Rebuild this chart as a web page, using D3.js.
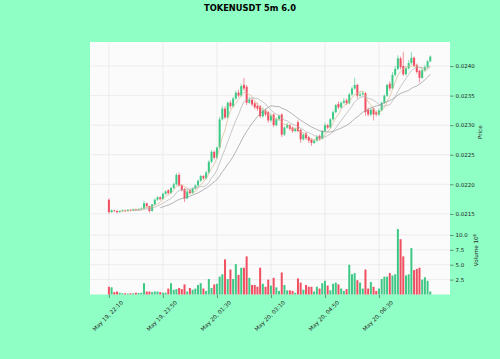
<!DOCTYPE html>
<html>
<head>
<meta charset="utf-8">
<script src="https://cdn.jsdelivr.net/npm/d3@7"></script>
<style>
  body { margin: 0; background: #8fffc5; }
  svg { display: block; font-family: "DejaVu Sans", sans-serif; }
</style>
</head>
<body>
<script>
var w = 500;
var h = 359;

// candles, 5 minute bars starting May 19 22:10
var opens = [
  0.02174,0.02153,0.02156,0.02155,0.02153,0.02155,0.02156,0.02155,0.02157,0.02156,
  0.02158,0.02157,0.02158,0.02159,0.02168,0.02163,0.02155,0.02166,0.02174,0.02178,
  0.02175,0.02184,0.02190,0.02185,0.02194,0.02200,0.02216,0.02198,0.02192,0.02176,
  0.02190,0.02185,0.02193,0.02198,0.02206,0.02214,0.02210,0.02220,0.02238,0.02255,
  0.02245,0.02262,0.02310,0.02328,0.02313,0.02338,0.02332,0.02345,0.02355,0.02350,
  0.02368,0.02365,0.02338,0.02343,0.02337,0.02333,0.02332,0.02315,0.02325,0.02322,
  0.02308,0.02318,0.02300,0.02310,0.02318,0.02284,0.02296,0.02300,0.02296,0.02290,
  0.02305,0.02292,0.02276,0.02286,0.02280,0.02276,0.02270,0.02274,0.02282,0.02277,
  0.02290,0.02300,0.02296,0.02310,0.02322,0.02336,0.02330,0.02338,0.02342,0.02337,
  0.02352,0.02362,0.02368,0.02350,0.02352,0.02354,0.02326,0.02318,0.02328,0.02322,
  0.02318,0.02325,0.02338,0.02350,0.02370,0.02362,0.02385,0.02395,0.02413,0.02400,
  0.02386,0.02396,0.02405,0.02414,0.02402,0.02392,0.02380,0.02393,0.02398,0.02408
];
var highs = [
  0.02176,0.02158,0.02157,0.02156,0.02156,0.02158,0.02157,0.02158,0.02158,0.02159,
  0.02159,0.02160,0.02161,0.02172,0.02169,0.02164,0.02167,0.02176,0.02180,0.02180,
  0.02186,0.02190,0.02192,0.02196,0.02203,0.02219,0.02220,0.02200,0.02194,0.02190,
  0.02192,0.02195,0.02200,0.02208,0.02216,0.02216,0.02223,0.02241,0.02258,0.02257,
  0.02264,0.02314,0.02333,0.02332,0.02340,0.02342,0.02348,0.02358,0.02360,0.02370,
  0.02380,0.02368,0.02348,0.02345,0.02340,0.02338,0.02334,0.02330,0.02328,0.02324,
  0.02320,0.02320,0.02313,0.02318,0.02320,0.02298,0.02304,0.02302,0.02298,0.02296,
  0.02308,0.02294,0.02287,0.02288,0.02282,0.02278,0.02276,0.02283,0.02284,0.02292,
  0.02304,0.02302,0.02312,0.02325,0.02336,0.02340,0.02340,0.02346,0.02345,0.02355,
  0.02365,0.02380,0.02370,0.02356,0.02358,0.02356,0.02330,0.02330,0.02330,0.02325,
  0.02328,0.02340,0.02352,0.02370,0.02374,0.02390,0.02400,0.02418,0.02416,0.02424,
  0.02400,0.02410,0.02424,0.02416,0.02404,0.02394,0.02396,0.02402,0.02410,0.02418
];
var lows = [
  0.02150,0.02152,0.02153,0.02151,0.02152,0.02153,0.02153,0.02154,0.02154,0.02155,
  0.02155,0.02156,0.02157,0.02158,0.02161,0.02152,0.02154,0.02164,0.02172,0.02173,
  0.02174,0.02182,0.02183,0.02184,0.02192,0.02198,0.02196,0.02188,0.02170,0.02175,
  0.02183,0.02184,0.02191,0.02196,0.02204,0.02207,0.02208,0.02218,0.02236,0.02242,
  0.02243,0.02260,0.02308,0.02310,0.02311,0.02328,0.02330,0.02343,0.02347,0.02348,
  0.02358,0.02334,0.02336,0.02332,0.02327,0.02324,0.02312,0.02313,0.02315,0.02304,
  0.02305,0.02297,0.02298,0.02307,0.02280,0.02282,0.02294,0.02291,0.02287,0.02288,
  0.02288,0.02270,0.02274,0.02275,0.02270,0.02265,0.02268,0.02272,0.02274,0.02276,
  0.02288,0.02293,0.02294,0.02308,0.02320,0.02327,0.02328,0.02336,0.02334,0.02335,
  0.02350,0.02360,0.02345,0.02348,0.02350,0.02316,0.02315,0.02315,0.02308,0.02315,
  0.02316,0.02323,0.02336,0.02348,0.02358,0.02360,0.02382,0.02393,0.02394,0.02383,
  0.02384,0.02394,0.02402,0.02398,0.02387,0.02372,0.02378,0.02390,0.02396,0.02406
];
var closes = [
  0.02153,0.02156,0.02155,0.02153,0.02155,0.02156,0.02155,0.02157,0.02156,0.02158,
  0.02157,0.02158,0.02159,0.02168,0.02163,0.02155,0.02166,0.02174,0.02178,0.02175,
  0.02184,0.02188,0.02185,0.02194,0.02200,0.02216,0.02198,0.02190,0.02176,0.02188,
  0.02185,0.02193,0.02198,0.02206,0.02214,0.02210,0.02220,0.02238,0.02255,0.02245,
  0.02262,0.02310,0.02328,0.02313,0.02338,0.02332,0.02345,0.02355,0.02350,0.02366,
  0.02362,0.02338,0.02343,0.02335,0.02330,0.02328,0.02315,0.02325,0.02318,0.02308,
  0.02316,0.02300,0.02310,0.02316,0.02284,0.02296,0.02300,0.02294,0.02290,0.02294,
  0.02290,0.02276,0.02284,0.02278,0.02274,0.02270,0.02274,0.02280,0.02277,0.02290,
  0.02300,0.02296,0.02310,0.02322,0.02334,0.02330,0.02338,0.02341,0.02337,0.02352,
  0.02362,0.02368,0.02350,0.02352,0.02354,0.02322,0.02318,0.02326,0.02318,0.02318,
  0.02325,0.02338,0.02350,0.02368,0.02362,0.02385,0.02395,0.02413,0.02398,0.02386,
  0.02396,0.02405,0.02414,0.02400,0.02390,0.02380,0.02393,0.02398,0.02408,0.02416
];
// volume in millions
var volumes = [
  1.3,1.2,0.4,0.5,0.3,0.2,0.2,0.15,0.2,0.2,
  0.3,0.25,0.3,1.9,0.5,0.5,0.4,0.5,0.5,0.4,
  0.3,0.3,1.0,1.9,0.8,0.9,1.1,0.9,1.7,0.5,
  1.1,0.8,1.0,1.6,1.9,1.0,0.6,2.6,1.1,1.7,
  1.8,3.0,3.4,5.9,2.6,4.2,2.6,5.1,3.3,4.5,
  4.5,6.4,2.8,1.6,1.6,1.3,4.5,1.8,1.3,2.5,
  1.5,2.8,1.2,0.6,3.7,1.6,0.7,0.7,0.6,0.3,
  2.7,2.0,0.8,1.6,1.3,1.3,0.5,1.3,1.0,1.9,
  2.3,1.5,0.7,1.8,2.0,1.7,1.0,0.6,0.9,5.0,
  3.4,3.6,2.4,2.0,1.0,4.2,1.0,2.1,1.3,0.6,
  1.0,2.6,3.0,3.0,3.6,3.2,3.4,11.0,9.3,6.4,
  3.2,3.4,7.8,4.1,4.3,4.5,2.5,2.9,2.3,0.5
];

var tickIndex = [0, 20, 40, 60, 80, 100];
var tickLabels = ["May 19, 22:10", "May 19, 23:50", "May 20, 01:30",
                  "May 20, 03:10", "May 20, 04:50", "May 20, 06:30"];
var priceTicks = [0.0215, 0.0220, 0.0225, 0.0230, 0.0235, 0.0240];
var volTicks = [2.5, 5.0, 7.5, 10.0];
var mavPeriods = [5, 10, 20];
var mavColors = ["#d9b98f", "#b0b0b0", "#959595"];

var upColor = "#3dc985";
var downColor = "#ef4f60";

var left = 90, right = 450;
var priceTop = 42, priceBottom = 222.5, volBottom = 294.5;

var xScale = d3.scaleLinear()
  .domain([-7, 126.3])
  .range([left, right]);

var yScale = d3.scaleLinear()
  .domain([0.021355, 0.024406])
  .range([priceBottom, priceTop]);

var vScale = d3.scaleLinear()
  .domain([0, 12.1])
  .range([volBottom, priceBottom]);

var svg = d3.select("body")
  .append("svg")
  .attr("width", w)
  .attr("height", h);

// panel background
svg.append("rect")
  .attr("x", left).attr("y", priceTop)
  .attr("width", right - left).attr("height", volBottom - priceTop)
  .attr("fill", "#fbfbfb");

// grid
var grid = svg.append("g").attr("stroke", "#e2e2e2").attr("stroke-width", 0.6);
grid.selectAll(".vg")
  .data(tickIndex)
  .enter()
  .append("line")
  .attr("x1", function(d) { return xScale(d); })
  .attr("x2", function(d) { return xScale(d); })
  .attr("y1", priceTop)
  .attr("y2", volBottom);
grid.selectAll(".pg")
  .data(priceTicks)
  .enter()
  .append("line")
  .attr("x1", left).attr("x2", right)
  .attr("y1", function(d) { return yScale(d); })
  .attr("y2", function(d) { return yScale(d); });
grid.selectAll(".vvg")
  .data(volTicks)
  .enter()
  .append("line")
  .attr("x1", left).attr("x2", right)
  .attr("y1", function(d) { return vScale(d); })
  .attr("y2", function(d) { return vScale(d); });

var candles = closes.map(function(c, i) {
  return { i: i, o: opens[i], h: highs[i], l: lows[i], c: c, v: volumes[i] };
});
function col(d) { return d.c >= d.o ? upColor : downColor; }

var bw = 2;

// wicks
svg.append("g").selectAll("line")
  .data(candles)
  .enter()
  .append("line")
  .attr("x1", function(d) { return xScale(d.i); })
  .attr("x2", function(d) { return xScale(d.i); })
  .attr("y1", function(d) { return yScale(d.h); })
  .attr("y2", function(d) { return yScale(d.l); })
  .attr("stroke", col)
  .attr("stroke-width", 0.6);

// bodies
svg.append("g").selectAll("rect")
  .data(candles)
  .enter()
  .append("rect")
  .attr("x", function(d) { return xScale(d.i) - bw / 2; })
  .attr("y", function(d) { return yScale(Math.max(d.o, d.c)); })
  .attr("width", bw)
  .attr("height", function(d) { return Math.max(0.6, Math.abs(yScale(d.o) - yScale(d.c))); })
  .attr("fill", col);

// moving averages
mavPeriods.forEach(function(p, k) {
  var pts = [];
  for (var i = p - 1; i < closes.length; i++) {
    pts.push([i, d3.mean(closes.slice(i - p + 1, i + 1))]);
  }
  svg.append("path")
    .datum(pts)
    .attr("fill", "none")
    .attr("stroke", mavColors[k])
    .attr("stroke-width", 0.7)
    .attr("d", d3.line()
      .x(function(d) { return xScale(d[0]); })
      .y(function(d) { return yScale(d[1]); }));
});

// volume bars
svg.append("g").selectAll("rect")
  .data(candles)
  .enter()
  .append("rect")
  .attr("x", function(d) { return xScale(d.i) - bw / 2; })
  .attr("y", function(d) { return vScale(d.v); })
  .attr("width", bw)
  .attr("height", function(d) { return vScale(0) - vScale(d.v); })
  .attr("fill", col);

// axes
var priceAxis = d3.axisRight(yScale)
  .tickValues(priceTicks)
  .tickFormat(d3.format(".4f"))
  .tickSize(3.5)
  .tickPadding(2);
var volAxis = d3.axisRight(vScale)
  .tickValues(volTicks)
  .tickFormat(d3.format(".1f"))
  .tickSize(3.5)
  .tickPadding(2);
var xAxis = d3.axisBottom(xScale)
  .tickValues(tickIndex)
  .tickFormat("")
  .tickSize(3.5);

function styleAxis(g) {
  g.select(".domain").remove();
  g.selectAll(".tick line").attr("stroke", "#444").attr("stroke-width", 0.6);
  g.selectAll(".tick text").attr("fill", "#222").style("font-size", "5.5px")
    .style("font-family", "DejaVu Sans");
}

svg.append("g")
  .attr("transform", "translate(" + right + ",0)")
  .call(priceAxis)
  .call(styleAxis);
svg.append("g")
  .attr("transform", "translate(" + right + ",0)")
  .call(volAxis)
  .call(styleAxis);
svg.append("g")
  .attr("transform", "translate(0," + volBottom + ")")
  .call(xAxis)
  .call(styleAxis);

svg.selectAll(".xlab")
  .data(tickIndex)
  .enter()
  .append("text")
  .attr("transform", function(d) {
    return "translate(" + (xScale(d) + 14.5) + "," + (volBottom + 8.5) + ") rotate(-45)";
  })
  .attr("text-anchor", "end")
  .attr("fill", "#222")
  .style("font-size", "5.6px")
  .text(function(d, i) { return tickLabels[i]; });

// axis labels
svg.append("text")
  .attr("transform", "translate(482," + ((priceTop + priceBottom) / 2) + ") rotate(-90)")
  .attr("text-anchor", "middle")
  .attr("fill", "#222")
  .style("font-size", "5.6px")
  .text("Price");

var vl = svg.append("text")
  .attr("transform", "translate(478,250) rotate(-90)")
  .attr("text-anchor", "middle")
  .attr("fill", "#222")
  .style("font-size", "5.6px");
vl.append("tspan").text("Volume  10");
vl.append("tspan").attr("dy", -2).style("font-size", "4px").text("6");

// title
svg.append("text")
  .attr("x", 250)
  .attr("y", 11)
  .attr("text-anchor", "middle")
  .attr("fill", "#000")
  .style("font-size", "8.3px")
  .style("font-weight", "bold")
  .text("TOKENUSDT 5m 6.0");
</script>
</body>
</html>
